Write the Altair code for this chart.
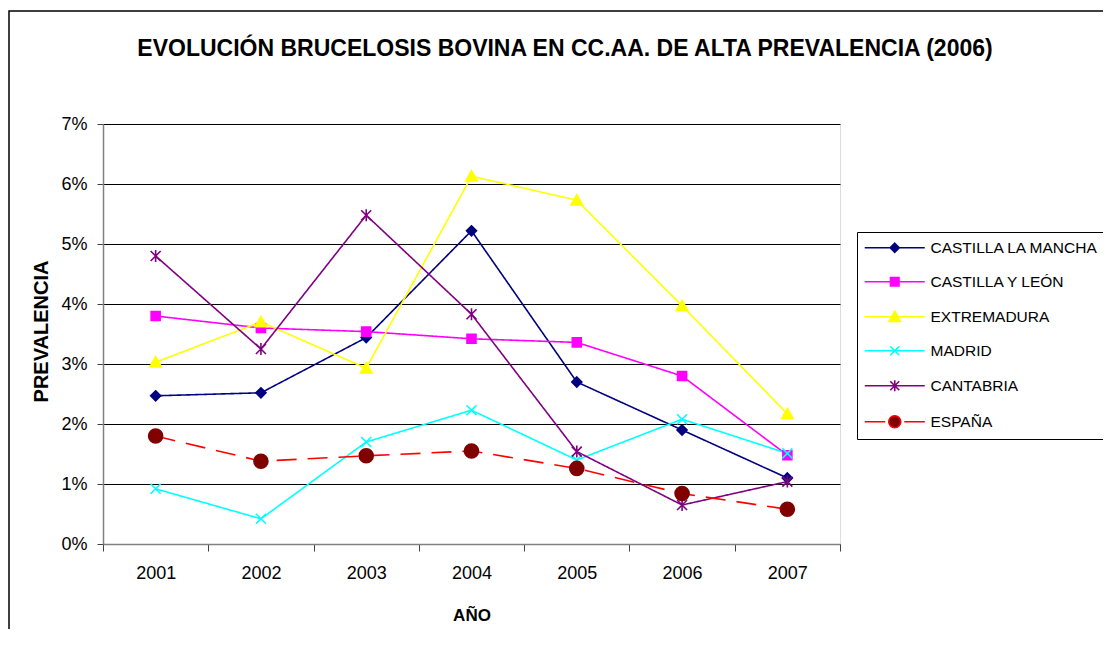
import altair as alt
import pandas as pd

years = ["2001", "2002", "2003", "2004", "2005", "2006", "2007"]
series = ["CASTILLA LA MANCHA", "CASTILLA Y LEÓN", "EXTREMADURA", "MADRID", "CANTABRIA", "ESPAÑA"]

clm = [2.47, 2.52, 3.44, 5.22, 2.70, 1.90, 1.10]
cyl = [3.80, 3.60, 3.54, 3.42, 3.36, 2.80, 1.48]
ext = [3.03, 3.70, 2.93, 6.13, 5.73, 3.97, 2.17]
mad = [0.92, 0.42, 1.70, 2.23, 1.40, 2.08, 1.51]
can = [4.80, 3.25, 5.48, 3.83, 1.54, 0.65, 1.04]
esp = [1.80, 1.38, 1.47, 1.55, 1.26, 0.84, 0.58]

values = [clm, cyl, ext, mad, can, esp]

line_colors = ["#000080", "#FF00FF", "#FFFF00", "#00FFFF", "#800080", "#FF0000"]
marker_colors = ["#000080", "#FF00FF", "#FFFF00", "#00FFFF", "#800080", "#800000"]
line_widths = [1.6, 1.6, 1.6, 1.6, 1.6, 4]
line_dashes = [[1, 0], [1, 0], [1, 0], [1, 0], [1, 0], [20, 11]]

circle = "M1.4,0A1.4,1.4,0,1,1,-1.4,0A1.4,1.4,0,1,1,1.4,0Z"
marker_paths = [
    "M0,-1L1,0L0,1L-1,0Z",
    "M-0.9,-0.9L0.9,-0.9L0.9,0.9L-0.9,0.9Z",
    "M0,-1.1L1.15,0.95L-1.15,0.95Z",
    "M-1,-1L1,1M-1,1L1,-1",
    "M-1,-1L1,1M-1,1L1,-1M0,-1.2L0,1.2",
    circle,
]
legend_paths = [
    "M-6,0L6,0M0,-0.9L0.9,0L0,0.9L-0.9,0Z",
    "M-6,0L6,0M-0.85,-0.85L0.85,-0.85L0.85,0.85L-0.85,0.85Z",
    "M-6,0L6,0M0,-1.1L1.15,0.95L-1.15,0.95Z",
    "M-6,0L6,0M-0.9,-0.9L0.9,0.9M-0.9,0.9L0.9,-0.9",
    "M-6,0L6,0M-0.9,-0.9L0.9,0.9M-0.9,0.9L0.9,-0.9M0,-1.1L0,1.1",
    "M-6,0L-1.9,0M1.9,0L6,0" + "M1.2,0A1.2,1.2,0,1,1,-1.2,0A1.2,1.2,0,1,1,1.2,0Z",
]

rows = []
for s, vals in zip(series, values):
    for y, v in zip(years, vals):
        rows.append({"serie": s, "anio": y, "v": v / 100.0})
df = pd.DataFrame(rows)

FONT = "Liberation Sans"

x_enc = alt.X(
    "anio:O",
    scale=alt.Scale(type="band", domain=years, paddingInner=0, paddingOuter=0),
    axis=alt.Axis(
        title="AÑO",
        titleFont=FONT, titleFontSize=17, titleFontWeight="bold", titleColor="black",
        titleBaseline="alphabetic", titleY=76,
        labelFont=FONT, labelFontSize=18, labelColor="black", labelAngle=0,
        labelPadding=13, tickSize=7, tickBand="extent", tickColor="#404040",
        domainColor="#808080", domainWidth=1.5, grid=False,
    ),
)
y_enc = alt.Y(
    "v:Q",
    scale=alt.Scale(domain=[0, 0.07], nice=False, zero=True),
    axis=alt.Axis(
        title="PREVALENCIA",
        titleFont=FONT, titleFontSize=20, titleFontWeight="bold", titleColor="black",
        titleBaseline="alphabetic", titleX=-56, titleY=207, titleAngle=-90,
        labelFont=FONT, labelFontSize=18, labelColor="black",
        labelPadding=10, tickSize=6, tickColor="#404040",
        values=[0, 0.01, 0.02, 0.03, 0.04, 0.05, 0.06, 0.07], format=".0%",
        domainColor="#808080", domainWidth=1.5,
        grid=True, gridColor="black", gridWidth=1,
    ),
)

base = alt.Chart(df)

lines = base.mark_line().encode(
    x=x_enc,
    y=y_enc,
    stroke=alt.Stroke("serie:N", scale=alt.Scale(domain=series, range=line_colors), legend=None),
    strokeWidth=alt.StrokeWidth("serie:N", scale=alt.Scale(domain=series, range=line_widths), legend=None),
    strokeDash=alt.StrokeDash("serie:N", scale=alt.Scale(domain=series, range=line_dashes), legend=None),
    order=alt.Order("anio:O"),
)

points = base.mark_point(filled=True, size=100, strokeWidth=1.6, opacity=1).encode(
    x=x_enc,
    y=y_enc,
    fill=alt.Fill("serie:N", scale=alt.Scale(domain=series, range=marker_colors), legend=None),
    stroke=alt.Stroke("serie:N", scale=alt.Scale(domain=series, range=marker_colors), legend=None),
    shape=alt.Shape("serie:N", scale=alt.Scale(domain=series, range=marker_paths), legend=None),
)

leg = alt.Legend(
    title=None, orient="none", legendX=754, legendY=108,
    strokeColor="black", fillColor="white", padding=8, cornerRadius=0,
    rowPadding=17, symbolSize=100, symbolOffset=22, labelOffset=28,
    labelFont=FONT, labelFontSize=15.5, labelColor="black", labelLimit=400,
    symbolOpacity=1,
)

legend_layer = base.mark_point(filled=True, size=100, opacity=1).encode(
    x=x_enc,
    y=y_enc,
    fill=alt.Fill("serie:N", scale=alt.Scale(domain=series, range=marker_colors), legend=leg),
    stroke=alt.Stroke("serie:N", scale=alt.Scale(domain=series, range=line_colors), legend=leg),
    shape=alt.Shape("serie:N", scale=alt.Scale(domain=series, range=legend_paths), legend=leg),
    strokeWidth=alt.StrokeWidth("serie:N", scale=alt.Scale(domain=series, range=[1.6, 1.6, 1.6, 1.6, 1.6, 3.2]), legend=leg),
).transform_filter(alt.datum.v < 0)

frame = alt.Chart(pd.DataFrame({"f": [0]})).mark_rect(
    fill=None, stroke="black", strokeWidth=1.5
).encode(
    x=alt.value(-94), x2=alt.value(1300), y=alt.value(-113), y2=alt.value(700)
)

chart = alt.layer(frame, lines, points, legend_layer).resolve_scale(
    stroke="independent", fill="independent", shape="independent",
    strokeWidth="independent", strokeDash="independent",
).properties(
    width=737,
    height=420,
    autosize=alt.AutoSizeParams(type="none"),
    padding={"left": 95, "top": 116, "right": 263, "bottom": 85},
    title=alt.TitleParams(
        "EVOLUCIÓN BRUCELOSIS BOVINA EN CC.AA. DE ALTA PREVALENCIA (2006)",
        font=FONT, fontSize=23, fontWeight="bold", color="black",
        anchor="middle", frame="group", dx=93.5, offset=-68.5, baseline="alphabetic",
    ),
).configure_view(
    fill="#FFFFCC", stroke="#808080", strokeWidth=1.5
).configure(background="white")

chart.save("out.html", embed_options={"renderer": "svg", "actions": False})
